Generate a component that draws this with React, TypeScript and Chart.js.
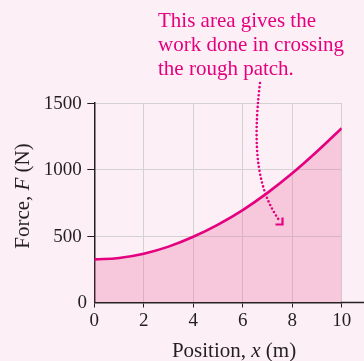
import React, { useEffect, useRef } from "react";
import { Chart, registerables } from "chart.js";

Chart.register(...registerables);

// ---- data ----
const positions = [0, 1, 2, 3, 4, 5, 6, 7, 8, 9, 10];
const forces = [324, 335, 367, 420, 494, 586, 695, 824, 971, 1135, 1311];
const xTicks = [0, 2, 4, 6, 8, 10];
const yTicks = [0, 500, 1000, 1500];
const noteLines = ["This area gives the", "work done in crossing", "the rough patch."];
const xTitle = [
  { t: "Position, ", i: false },
  { t: "x", i: true },
  { t: " (m)", i: false },
];
const yTitle = [
  { t: "Force, ", i: false },
  { t: "F", i: true },
  { t: " (N)", i: false },
];

// ---- styles ----
const BG = "#fcf0f6";
const AXIS = "#231f20";
const GRID = "#d2d2d2";
const MAGENTA = "#e4007f";
const FILL = "rgba(235,100,160,0.29)";
const SERIF = "'Liberation Serif', 'Times New Roman', serif";

function drawRuns(ctx: CanvasRenderingContext2D, runs: { t: string; i: boolean }[], cx: number, y: number, size: number) {
  const fonts = runs.map((r) => `${r.i ? "italic " : ""}${size}px ${SERIF}`);
  let total = 0;
  const widths = runs.map((r, k) => {
    ctx.font = fonts[k];
    const w = ctx.measureText(r.t).width;
    total += w;
    return w;
  });
  let x = cx - total / 2;
  ctx.textAlign = "left";
  runs.forEach((r, k) => {
    ctx.font = fonts[k];
    ctx.fillText(r.t, x, y);
    x += widths[k];
  });
}

const decor = {
  id: "decor",
  beforeDraw(chart: any) {
    const { ctx, width, height } = chart;
    ctx.save();
    ctx.fillStyle = BG;
    ctx.fillRect(0, 0, width, height);
    ctx.restore();
  },
  afterDraw(chart: any) {
    const { ctx, width, chartArea, scales } = chart;
    const yScale = scales.y;
    ctx.save();
    // x axis line extension to the right edge
    ctx.strokeStyle = AXIS;
    ctx.lineWidth = 1.5;
    ctx.beginPath();
    ctx.moveTo(chartArea.right - 1, chartArea.bottom);
    ctx.lineTo(width, chartArea.bottom);
    ctx.stroke();

    // y tick labels
    ctx.fillStyle = AXIS;
    ctx.font = `19px ${SERIF}`;
    ctx.textAlign = "right";
    ctx.textBaseline = "middle";
    yTicks.forEach((v) => {
      const py = yScale.getPixelForValue(v);
      ctx.fillText(String(v), v === 0 ? 87 : 81.7, py + 1);
    });

    // axis titles
    ctx.textBaseline = "alphabetic";
    drawRuns(ctx, xTitle, 234, 357, 21);
    ctx.save();
    ctx.translate(29, 196);
    ctx.rotate(-Math.PI / 2);
    drawRuns(ctx, yTitle, 0, 0, 21);
    ctx.restore();

    // annotation text
    ctx.fillStyle = MAGENTA;
    ctx.font = `21px ${SERIF}`;
    ctx.textAlign = "left";
    noteLines.forEach((line, k) => ctx.fillText(line, 158, 26.5 + k * 24.4));

    // dotted arrow
    ctx.strokeStyle = MAGENTA;
    ctx.lineWidth = 2.6;
    ctx.lineCap = "round";
    ctx.setLineDash([0, 4]);
    ctx.beginPath();
    ctx.moveTo(260, 83);
    ctx.bezierCurveTo(252, 150, 258, 190, 279, 220);
    ctx.stroke();
    ctx.setLineDash([]);
    ctx.lineCap = "butt";
    ctx.lineWidth = 2.2;
    ctx.beginPath();
    ctx.moveTo(275.5, 224.5);
    ctx.lineTo(282.5, 224.5);
    ctx.lineTo(282.5, 217.5);
    ctx.stroke();
    ctx.restore();
  },
};

export default function App() {
  const ref = useRef<HTMLCanvasElement>(null);
  useEffect(() => {
    if (!ref.current) return;
    const font = { family: SERIF, size: 19 };
    const chart = new Chart(ref.current, {
      type: "line",
      data: {
        datasets: [
          {
            data: positions.map((x, i) => ({ x, y: forces[i] })),
            borderColor: MAGENTA,
            borderWidth: 2.6,
            backgroundColor: FILL,
            fill: "origin",
            pointRadius: 0,
            tension: 0.4,
          },
        ],
      },
      options: {
        animation: false,
        responsive: false,
        maintainAspectRatio: false,
        events: [],
        layout: { padding: { top: 103, right: 22.3, left: 0, bottom: 0 } },
        plugins: { legend: { display: false }, tooltip: { enabled: false }, title: { display: false } },
        scales: {
          x: {
            type: "linear",
            min: 0,
            max: 10,
            afterBuildTicks: (s: any) => {
              s.ticks = xTicks.map((v) => ({ value: v }));
            },
            ticks: { font, color: AXIS, padding: 2, maxRotation: 0, autoSkip: false, callback: (v: any) => String(v) },
            grid: { color: GRID, tickColor: AXIS, tickLength: 5, lineWidth: 1 },
            border: { color: AXIS, width: 1.5 },
            afterFit: (s: any) => {
              s.height = 58.5;
            },
          },
          y: {
            type: "linear",
            min: 0,
            max: 1500,
            afterBuildTicks: (s: any) => {
              s.ticks = yTicks.map((v) => ({ value: v }));
            },
            ticks: { display: false },
            grid: {
              color: GRID,
              tickColor: (c: any) => (c.tick && c.tick.value === 0 ? "rgba(0,0,0,0)" : AXIS),
              tickLength: 7,
              lineWidth: 1,
            },
            border: { color: AXIS, width: 1.5 },
            afterFit: (s: any) => {
              s.width = 94.3;
            },
          },
        },
      },
      plugins: [decor],
    });
    return () => chart.destroy();
  }, []);
  return (
    <div style={{ position: "fixed", left: 0, top: 0, width: 364, height: 361, background: BG }}>
      <canvas ref={ref} width={364} height={361} style={{ display: "block", width: 364, height: 361 }} />
    </div>
  );
}
